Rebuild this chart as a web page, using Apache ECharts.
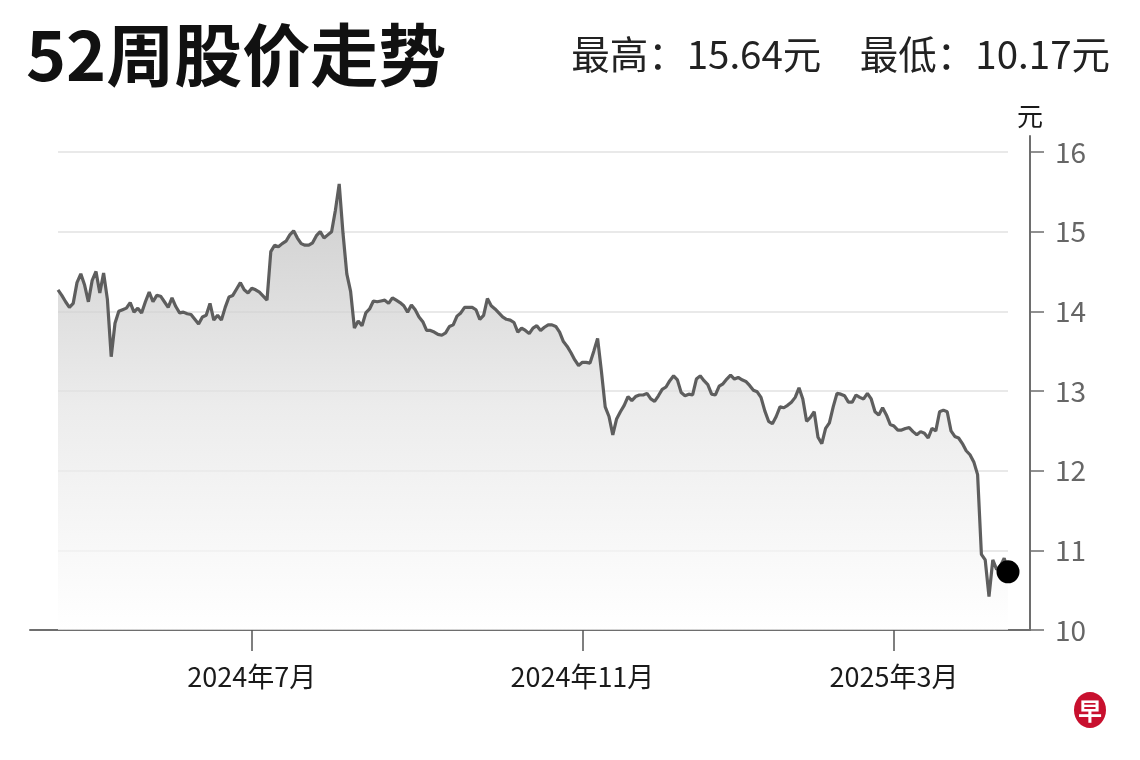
<!DOCTYPE html>
<html>
<head>
<meta charset="utf-8">
<script src="https://cdn.jsdelivr.net/npm/echarts@6/dist/echarts.min.js"></script>
<style>
html,body{margin:0;padding:0;background:#fff;}
#chart{width:1140px;height:760px;}
</style>
</head>
<body>
<div id="chart"></div>
<script>
// ---- data ----
const startDate = '2024-04-16';
const holidays = ['2024-05-01','2024-05-22','2024-06-17','2024-08-09','2024-10-31','2024-12-25','2025-01-01','2025-01-29','2025-01-30','2025-03-31'];
const prices = [
  14.27, 14.20, 14.12, 14.05, 14.10, 14.36, 14.47, 14.33, 14.12, 14.39,
  14.50, 14.23, 14.48, 14.15, 13.43, 13.85, 14.00, 14.02, 14.04, 14.11,
  13.99, 14.04, 13.98, 14.12, 14.24, 14.12, 14.20, 14.19, 14.12, 14.05,
  14.17, 14.06, 13.98, 13.99, 13.97, 13.96, 13.90, 13.84, 13.93, 13.95,
  14.10, 13.89, 13.95, 13.89, 14.05, 14.18, 14.20, 14.28, 14.36, 14.27,
  14.23, 14.29, 14.27, 14.24, 14.19, 14.14, 14.75, 14.83, 14.81, 14.85,
  14.88, 14.96, 15.01, 14.92, 14.85, 14.83, 14.83, 14.86, 14.95, 15.00,
  14.92, 14.96, 15.00, 15.27, 15.60, 14.98, 14.47, 14.25, 13.79, 13.88,
  13.82, 13.98, 14.03, 14.13, 14.12, 14.13, 14.14, 14.10, 14.17, 14.14,
  14.11, 14.07, 13.99, 14.08, 14.02, 13.93, 13.87, 13.76, 13.76, 13.74,
  13.71, 13.70, 13.73, 13.81, 13.83, 13.94, 13.98, 14.05, 14.05, 14.05,
  14.02, 13.90, 13.95, 14.16, 14.07, 14.03, 13.98, 13.93, 13.90, 13.89,
  13.86, 13.74, 13.79, 13.76, 13.72, 13.79, 13.82, 13.76, 13.80, 13.83,
  13.83, 13.81, 13.74, 13.62, 13.56, 13.48, 13.39, 13.32, 13.36, 13.36,
  13.35, 13.50, 13.66, 13.25, 12.80, 12.68, 12.45, 12.65, 12.74, 12.82,
  12.93, 12.88, 12.93, 12.95, 12.95, 12.97, 12.90, 12.87, 12.94, 13.02,
  13.05, 13.13, 13.19, 13.14, 12.98, 12.94, 12.96, 12.95, 13.15, 13.19,
  13.13, 13.08, 12.96, 12.95, 13.06, 13.09, 13.15, 13.20, 13.15, 13.17,
  13.14, 13.12, 13.07, 13.01, 12.99, 12.92, 12.75, 12.62, 12.59, 12.68,
  12.80, 12.79, 12.82, 12.86, 12.92, 13.04, 12.90, 12.62, 12.67, 12.74,
  12.42, 12.34, 12.53, 12.60, 12.80, 12.97, 12.96, 12.94, 12.86, 12.86,
  12.95, 12.92, 12.90, 12.97, 12.90, 12.74, 12.70, 12.79, 12.70, 12.58,
  12.56, 12.51, 12.51, 12.53, 12.54, 12.49, 12.45, 12.49, 12.47, 12.41,
  12.53, 12.50, 12.74, 12.76, 12.74, 12.50, 12.43, 12.41, 12.34, 12.25,
  12.20, 12.11, 11.95, 10.95, 10.88, 10.42, 10.88, 10.76, 10.80, 10.90,
  10.73
];
const tickDates = ['2024-07-01', '2024-11-01', '2025-03-03'];
const tickLabels = ['2024年7月', '2024年11月', '2025年3月'];
const yTicks = [10, 11, 12, 13, 14, 15, 16];
const titleText = '52周股价走势';
const subText = '最高：15.64元　最低：10.17元';

// trading-day categories (weekdays, skipping SGX holidays)
const categories = [];
(function () {
  const d = new Date(startDate + 'T00:00:00Z');
  while (categories.length < prices.length) {
    const s = d.toISOString().slice(0, 10);
    const wd = d.getUTCDay();
    if (wd !== 0 && wd !== 6 && holidays.indexOf(s) < 0) categories.push(s);
    d.setUTCDate(d.getUTCDate() + 1);
  }
})();

const FONT = '"Noto Sans CJK SC", "Noto Sans", sans-serif';
const chart = echarts.init(document.getElementById('chart'), null, {renderer: 'canvas'});
const last = prices.length - 1;

chart.setOption({
  backgroundColor: '#ffffff',
  animation: false,
  title: [
    {text: titleText, left: 26, top: 21, padding: 0,
     textStyle: {fontFamily: FONT, fontSize: 68, fontWeight: 'bold', color: '#111'}},
    {text: subText, right: 30, top: 35, padding: 0,
     textStyle: {fontFamily: FONT, fontSize: 38.5, fontWeight: 'normal', color: '#222'}}
  ],
  grid: [
    {left: 30, right: 110, top: 136, bottom: 130, containLabel: false},
    {left: 58, right: 132, top: 152, bottom: 130, containLabel: false}
  ],
  xAxis: [
    {gridIndex: 0, type: 'value', min: 0, max: 1,
     axisLine: {show: true, onZero: false, lineStyle: {color: '#6e6e6e', width: 2}},
     axisTick: {show: false}, axisLabel: {show: false}, splitLine: {show: false}},
    {gridIndex: 1, type: 'category', data: categories, boundaryGap: false,
     axisLine: {show: false, onZero: false},
     axisTick: {show: true, length: 21, interval: (i, v) => tickDates.indexOf(v) >= 0,
                lineStyle: {color: '#555', width: 1.5}},
     axisLabel: {show: true, interval: (i, v) => tickDates.indexOf(v) >= 0,
                 formatter: v => tickLabels[tickDates.indexOf(v)] || '',
                 margin: 33, fontFamily: FONT, fontSize: 27, color: '#1a1a1a'},
     splitLine: {show: false}}
  ],
  yAxis: [
    {gridIndex: 0, type: 'value', position: 'right', min: 10, max: 16.2,
     name: '元', nameLocation: 'end', nameGap: 7,
     nameTextStyle: {fontFamily: FONT, fontSize: 26, color: '#1a1a1a', align: 'center'},
     axisLine: {show: true, onZero: false, lineStyle: {color: '#6e6e6e', width: 2}},
     axisTick: {show: true, length: 14, customValues: yTicks, lineStyle: {color: '#6e6e6e', width: 1.5}},
     axisLabel: {show: true, customValues: yTicks, margin: 25,
                 fontFamily: FONT, fontSize: 28, color: '#666'},
     splitLine: {show: false}},
    {gridIndex: 1, type: 'value', position: 'right', min: 10, max: 16, interval: 1,
     axisLine: {show: false, onZero: false}, axisTick: {show: false}, axisLabel: {show: false},
     splitLine: {show: true, lineStyle: {color: '#e9e9e9', width: 2}}}
  ],
  series: [{
    type: 'line',
    xAxisIndex: 1, yAxisIndex: 1,
    data: prices,
    showSymbol: false,
    symbol: 'none',
    lineStyle: {color: '#5e5e5e', width: 3.2},
    areaStyle: {
      color: new echarts.graphic.LinearGradient(0, 0, 0, 1, [
        {offset: 0, color: '#b9b9b9'},
        {offset: 0.5, color: '#e4e4e4'},
        {offset: 1, color: '#ffffff'}
      ])
    },
    markPoint: {
      symbol: 'circle', symbolSize: 23, silent: true,
      itemStyle: {color: '#000'},
      label: {show: false},
      data: [{coord: [categories[last], prices[last]]}]
    }
  }],
  graphic: [
    {type: 'ellipse', shape: {cx: 1090, cy: 710, rx: 16, ry: 18}, style: {fill: '#c8102e'}},
    {type: 'text', x: 1090, y: 711,
     style: {text: '早', fill: '#fff', font: 'bold 24px "Noto Sans CJK SC"', align: 'center', verticalAlign: 'middle'}}
  ]
});
</script>
</body>
</html>
